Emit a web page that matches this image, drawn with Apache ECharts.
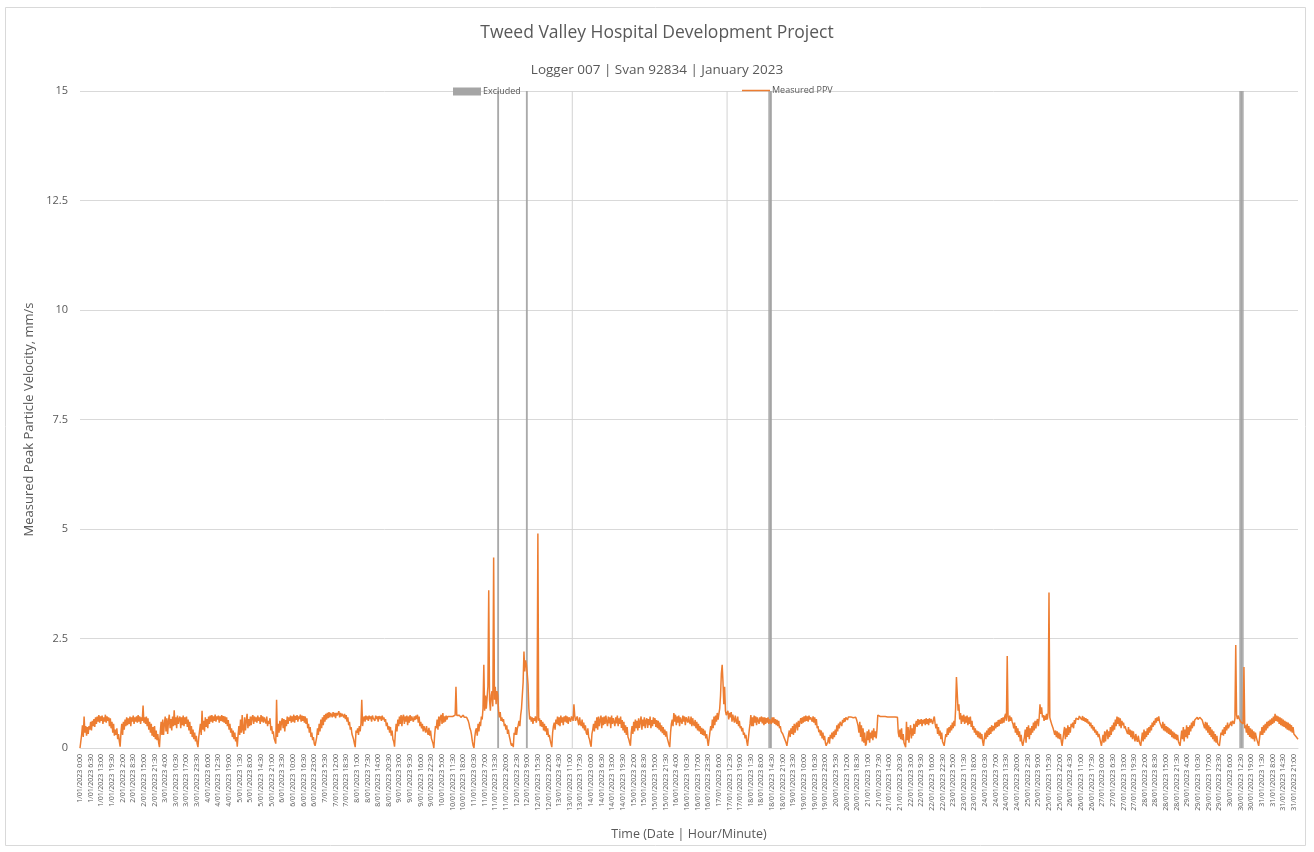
<!DOCTYPE html>
<html><head><meta charset="utf-8">
<script src="https://cdn.jsdelivr.net/npm/echarts@6/dist/echarts.min.js"></script>
<style>html,body{margin:0;padding:0;background:#fff}#c{width:1314px;height:852px}</style>
</head><body><div id="c"></div>
<script>
// Measured PPV (mm/s), half-hourly, one row per day of January 2023 (00:00 ... 23:30)
const ppvByDay = [
 [0,.15,.3,.52,.25,.72,.35,.5,.28,.48,.32,.5,.42,.6,.4,.62,.5,.66,.48,.7,.55,.72,.6,.75,.58,.72,.62,.74,.55,.7,.6,.76,.58,.72,.62,.7,.5,.68,.45,.6,.35,.55,.28,.42,.3,.45,.2,.32],
 [.15,.03,.35,.55,.3,.6,.42,.65,.5,.7,.52,.68,.55,.72,.5,.7,.6,.74,.55,.7,.6,.72,.58,.75,.6,.72,.55,.7,.62,.97,.58,.7,.55,.72,.5,.68,.42,.6,.35,.55,.28,.48,.25,.5,.2,.4,.18,.32],
 [.12,.02,.35,.6,.3,.65,.3,.55,.72,.38,.68,.32,.62,.76,.45,.66,.4,.72,.5,.86,.52,.7,.45,.74,.55,.66,.72,.45,.7,.52,.74,.5,.7,.55,.72,.48,.65,.4,.6,.32,.5,.25,.42,.2,.35,.15,.28,.1],
 [.02,.25,.4,.55,.3,.85,.42,.62,.38,.7,.48,.66,.45,.72,.55,.74,.6,.75,.58,.72,.62,.76,.6,.72,.65,.74,.58,.72,.62,.75,.6,.73,.58,.72,.55,.7,.5,.64,.42,.55,.35,.45,.25,.4,.2,.35,.15,.25],
 [.03,.3,.5,.3,.65,.35,.75,.42,.32,.7,.4,.62,.78,.45,.66,.5,.72,.52,.7,.75,.55,.72,.6,.7,.58,.74,.62,.7,.55,.75,.6,.72,.58,.7,.74,.56,.72,.5,.62,.55,.68,.4,.5,.32,.38,.22,.25,.1],
 [1.1,.25,.55,.35,.62,.4,.6,.68,.45,.66,.38,.64,.5,.72,.55,.7,.62,.74,.58,.72,.6,.76,.58,.73,.64,.75,.6,.72,.66,.76,.6,.74,.62,.73,.58,.72,.55,.68,.45,.55,.35,.48,.25,.35,.18,.25,.1,.05],
 [.02,.25,.45,.3,.55,.38,.65,.45,.7,.52,.75,.6,.78,.65,.8,.68,.82,.7,.8,.84,.7,.82,.72,.8,.68,.8,.74,.78,.84,.7,.8,.72,.78,.82,.7,.78,.66,.75,.6,.7,.52,.6,.42,.48,.32,.35,.2,.1],
 [.02,.4,.35,.45,.3,.5,.38,.55,1.1,.5,.66,.72,.6,.74,.65,.72,.62,.74,.66,.72,.6,.74,.68,.72,.62,.74,.66,.72,.6,.73,.66,.72,.62,.74,.65,.7,.6,.66,.5,.58,.42,.5,.35,.48,.28,.4,.2,.15],
 [.03,.35,.55,.38,.65,.5,.72,.55,.75,.5,.7,.76,.55,.72,.6,.74,.52,.72,.58,.75,.62,.72,.74,.6,.72,.64,.74,.66,.76,.58,.72,.5,.6,.45,.55,.38,.5,.42,.35,.5,.38,.3,.46,.28,.4,.22,.18,.1],
 [0,.3,.5,.45,.65,.42,.72,.5,.7,.76,.55,.8,.58,.72,.6,.74,.65,.72,.74,.68,.72,.75,.7,.72,.74,.7,.75,1.4,.74,.7,.73,.75,.72,.7,.74,.72,.75,.7,.73,.72,.7,.66,.62,.55,.45,.4,.3,.15],
 [.05,0,.25,.4,.45,.28,.55,.38,.6,.5,.72,.65,.9,1.9,.85,1.2,.9,1.15,1.4,3.6,1.1,.85,1.2,1.3,.95,4.35,1.1,1.4,1,1.3,1.2,.85,.7,.82,.62,.7,.6,.66,.5,.55,.42,.52,.32,.42,.28,.2,.1,.05],
 [.1,.02,.35,.3,.48,.3,.45,.52,.62,.5,.75,.9,1.2,1.5,2.2,1.75,2,1.9,1.7,1.45,.9,.65,.72,.6,.7,.55,.68,.62,.72,.58,.66,4.9,.62,.68,.5,.64,.48,.6,.4,.55,.38,.5,.3,.45,.25,.3,.18,.1],
 [.02,.35,.5,.58,.42,.65,.55,.72,.52,.7,.5,.74,.58,.7,.52,.72,.6,.74,.58,.72,.55,.7,.74,.6,.72,.76,.62,1,.74,.62,.58,.72,.6,.52,.7,.55,.5,.65,.45,.58,.4,.52,.35,.3,.45,.25,.2,.1],
 [.03,.32,.42,.55,.38,.62,.45,.7,.42,.72,.5,.64,.74,.45,.7,.52,.72,.55,.74,.6,.5,.72,.56,.7,.45,.74,.55,.68,.72,.5,.7,.56,.74,.5,.68,.55,.72,.46,.64,.4,.6,.35,.52,.3,.48,.25,.2,.12],
 [.05,.35,.5,.32,.6,.38,.65,.45,.62,.4,.68,.46,.6,.72,.42,.65,.5,.7,.45,.62,.68,.46,.66,.52,.72,.45,.64,.5,.7,.55,.68,.48,.64,.45,.62,.42,.58,.38,.52,.34,.48,.3,.42,.26,.38,.22,.18,.08],
 [.02,.35,.55,.65,.5,.8,.6,.76,.52,.72,.58,.74,.5,.7,.72,.55,.74,.6,.72,.52,.7,.74,.58,.72,.6,.55,.72,.5,.68,.55,.5,.64,.45,.6,.4,.55,.38,.5,.32,.46,.3,.44,.28,.4,.22,.32,.18,.05],
 [.03,.35,.5,.4,.65,.45,.72,.52,.74,.6,.8,.65,.78,.9,1.2,1.7,1.9,1.5,1,1.4,.85,.75,.8,.85,.65,.8,.7,.82,.6,.76,.66,.58,.74,.62,.55,.72,.5,.62,.45,.5,.38,.46,.3,.35,.22,.3,.15,.05],
 [.02,.4,.55,.75,.5,.7,.5,.74,.58,.72,.52,.7,.74,.55,.7,.6,.72,.56,.7,.52,.7,.55,.68,.58,.7,.55,.66,.6,.55,.7,.58,.7,.55,.66,.52,.64,.5,.62,.45,.5,.38,.42,.32,.35,.22,.25,.12,.05],
 [.03,.3,.4,.25,.45,.32,.5,.3,.55,.35,.52,.58,.4,.62,.48,.6,.68,.55,.7,.58,.72,.6,.74,.62,.72,.6,.74,.65,.7,.74,.6,.72,.58,.7,.52,.66,.45,.5,.36,.42,.28,.4,.22,.35,.18,.28,.12,.05],
 [.02,.15,.25,.1,.3,.22,.35,.2,.38,.25,.42,.3,.52,.38,.56,.45,.6,.62,.5,.64,.58,.68,.6,.7,.72,.64,.71,.72,.69,.71,.7,.72,.69,.71,.68,.7,.65,.58,.5,.35,.6,.25,.52,.15,.45,.12,.35,.05],
 [.1,.38,.18,.42,.12,.35,.22,.4,.18,.45,.25,.38,.22,.42,.75,.72,.71,.72,.7,.71,.72,.71,.7,.72,.71,.7,.71,.72,.7,.71,.72,.7,.71,.7,.72,.71,.7,.71,.7,.35,.25,.42,.2,.45,.18,.32,.12,.1],
 [.02,.6,.18,.48,.12,.38,.52,.22,.45,.28,.55,.32,.52,.62,.48,.66,.52,.64,.55,.66,.5,.64,.56,.66,.52,.68,.55,.66,.52,.68,.58,.66,.6,.55,.66,.72,.55,.45,.55,.32,.48,.28,.4,.2,.35,.15,.12,.05],
 [.02,.32,.25,.45,.3,.48,.35,.52,.4,.58,.45,.62,.5,.9,1.62,1.25,.85,1,.65,.8,.55,.74,.6,.76,.55,.72,.58,.74,.52,.7,.55,.72,.48,.62,.42,.5,.35,.45,.3,.4,.25,.38,.22,.35,.2,.32,.15,.05],
 [.02,.35,.2,.4,.25,.45,.3,.48,.32,.52,.38,.5,.4,.58,.45,.6,.48,.64,.5,.65,.55,.68,.56,.7,.58,.72,.78,.62,2.1,.72,.6,.74,.62,.7,.6,.55,.45,.58,.35,.5,.3,.45,.25,.38,.15,.3,.12,.05],
 [.02,.25,.42,.12,.48,.25,.52,.2,.45,.3,.5,.35,.58,.4,.62,.45,.6,.66,.5,.68,1,.78,.93,.7,.75,.62,.74,.64,.78,.65,.8,3.55,.7,.62,.58,.5,.45,.38,.3,.4,.25,.38,.22,.35,.2,.32,.15,.05],
 [.03,.35,.48,.2,.45,.25,.52,.3,.48,.35,.55,.48,.58,.45,.64,.55,.68,.66,.72,.65,.73,.7,.72,.64,.73,.62,.7,.6,.68,.58,.66,.55,.6,.5,.58,.45,.52,.4,.48,.35,.42,.3,.38,.25,.32,.22,.18,.05],
 [.02,.3,.12,.38,.15,.35,.42,.2,.38,.25,.48,.3,.52,.38,.58,.42,.65,.5,.72,.55,.7,.5,.68,.45,.62,.52,.58,.45,.5,.42,.46,.32,.48,.3,.42,.25,.4,.2,.38,.25,.15,.32,.2,.14,.28,.16,.1,.05],
 [.02,.35,.15,.42,.2,.38,.25,.45,.3,.48,.35,.52,.4,.58,.48,.62,.52,.68,.58,.7,.62,.72,.6,.55,.5,.45,.6,.4,.55,.38,.5,.35,.48,.32,.45,.3,.42,.25,.38,.22,.35,.2,.32,.18,.3,.15,.1,.05],
 [.02,.4,.2,.48,.15,.42,.25,.52,.22,.48,.3,.52,.38,.58,.45,.62,.5,.64,.66,.68,.7,.65,.68,.7,.66,.69,.64,.66,.6,.45,.6,.4,.58,.35,.52,.3,.48,.25,.42,.2,.38,.15,.32,.12,.28,.1,.08,.05],
 [.02,.35,.3,.42,.28,.48,.32,.52,.4,.58,.45,.5,.55,.6,.5,.62,.64,.55,.68,2.35,.75,.66,.74,.68,.65,.6,.62,.58,.55,1.85,.45,.52,.35,.55,.3,.5,.25,.45,.22,.42,.2,.38,.15,.35,.25,.18,.12,.05],
 [.02,.38,.3,.48,.3,.52,.35,.55,.4,.6,.45,.62,.5,.65,.52,.68,.55,.72,.58,.78,.62,.74,.6,.72,.55,.7,.52,.68,.5,.65,.48,.62,.45,.6,.42,.58,.4,.55,.38,.52,.35,.48,.32,.3,.28,.25,.22,.2]
];

// Excluded periods (first and last half-hour slot, inclusive)
const excludedPeriods = [
 ['11/01/2023 15:00', '11/01/2023 15:30'],
 ['12/01/2023 8:30', '12/01/2023 9:00'],
 ['13/01/2023 12:30', '13/01/2023 12:30'],
 ['17/01/2023 11:00', '17/01/2023 11:00'],
 ['18/01/2023 12:30', '18/01/2023 14:00'],
 ['30/01/2023 12:00', '30/01/2023 14:00']
];
const excludedLevel = 15;

const yTicks = { min: 0, max: 15, interval: 2.5 };

// Category labels: every half hour of January 2023
const categories = [];
for (let d = 1; d <= 31; d++) {
  for (let s = 0; s < 48; s++) {
    categories.push(d + '/01/2023 ' + Math.floor(s / 2) + ':' + (s % 2 ? '30' : '00'));
  }
}
const ppv = [].concat(...ppvByDay);
const excludedBars = categories.map(() => null);
excludedPeriods.forEach(([a, b]) => {
  const i0 = categories.indexOf(a), i1 = categories.indexOf(b);
  for (let i = i0; i <= i1; i++) {
    excludedBars[i] = { value: excludedLevel, itemStyle: { color: i1 === i0 ? '#d2d2d2' : '#a5a5a5' } };
  }
});

const FONT = 'Open Sans';
const TXT = '#595959';
const chart = echarts.init(document.getElementById('c'), null, { renderer: 'canvas' });
chart.setOption({
  animation: false,
  backgroundColor: '#fff',
  textStyle: { fontFamily: FONT },
  graphic: [{ type: 'rect', shape: { x: 5.5, y: 7.5, width: 1300, height: 838 }, style: { fill: 'none', stroke: '#d9d9d9', lineWidth: 1 }, silent: true }],
  title: [
    { text: 'Tweed Valley Hospital Development Project', left: 'center', top: 19,
      textStyle: { fontFamily: FONT, fontSize: 17.5, fontWeight: 'normal', color: TXT } },
    { text: 'Logger 007 | Svan 92834 | January 2023', left: 'center', top: 58,
      textStyle: { fontFamily: FONT, fontSize: 13.5, fontWeight: 'normal', color: TXT } }
  ],
  legend: [
    { data: [{ name: 'Excluded', icon: 'rect' }], left: 453, top: 87, padding: 0, itemWidth: 28, itemHeight: 8, itemGap: 0,
      textStyle: { fontFamily: FONT, fontSize: 9, color: TXT, padding: [0, 0, 0, -3] } },
    { data: [{ name: 'Measured PPV', icon: 'rect' }], left: 742, top: 86, padding: 0, itemWidth: 28, itemHeight: 1.5, itemGap: 0,
      textStyle: { fontFamily: FONT, fontSize: 9, color: TXT, padding: [0, 0, 0, -3] } }
  ],
  grid: { left: 80, right: 16, top: 91, bottom: 104, containLabel: false },
  xAxis: {
    type: 'category', data: categories, boundaryGap: false,
    axisLine: { lineStyle: { color: '#d9d9d9' } }, axisTick: { show: false },
    axisLabel: { interval: 12, rotate: 90, fontSize: 7, color: TXT, margin: 6, fontFamily: FONT },
    splitLine: { show: false },
    name: 'Time (Date | Hour/Minute)', nameLocation: 'middle', nameGap: 80,
    nameTextStyle: { fontFamily: FONT, fontSize: 12.5, color: TXT }
  },
  yAxis: {
    type: 'value', min: yTicks.min, max: yTicks.max, interval: yTicks.interval,
    axisLine: { show: false }, axisTick: { show: false },
    axisLabel: { fontSize: 11, color: TXT, margin: 12, fontFamily: FONT },
    splitLine: { lineStyle: { color: '#d9d9d9' } },
    name: 'Measured Peak Particle Velocity, mm/s', nameLocation: 'middle', nameGap: 44,
    nameTextStyle: { fontFamily: FONT, fontSize: 13, color: TXT }
  },
  series: [
    { name: 'Excluded', type: 'bar', data: excludedBars, barWidth: '100%', barGap: '-100%',
      itemStyle: { color: '#a5a5a5' }, z: 1, silent: true },
    { name: 'Measured PPV', type: 'line', data: ppv, showSymbol: false, symbol: 'none',
      lineStyle: { width: 1.5, color: '#ED7D31' }, itemStyle: { color: '#ED7D31' }, z: 2, silent: true }
  ]
});
</script>
</body></html>
